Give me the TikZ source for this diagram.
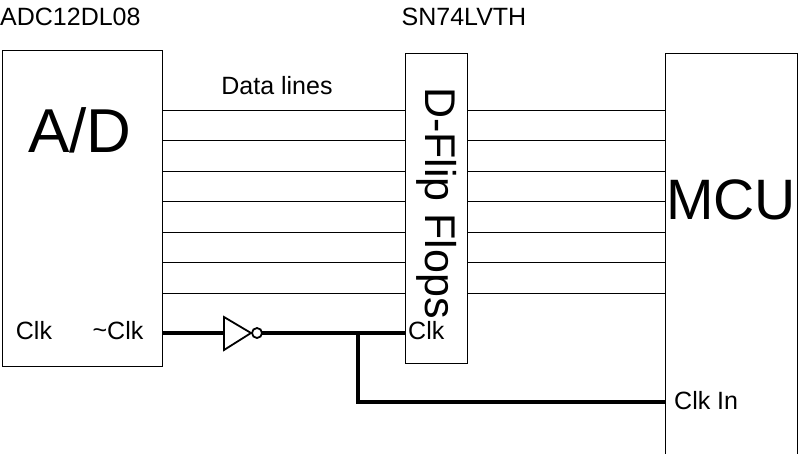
\documentclass[tikz,border=0pt]{standalone}
\usepackage{fontspec}
\setmainfont{Liberation Sans}
\begin{document}
\begin{tikzpicture}[x=1pt,y=-1pt,
  box/.style={draw,line width=1.2pt},
  dl/.style={line width=0.8pt},
  clk/.style={line width=3.5pt},
  lbl/.style={font=\fontsize{25}{28}\selectfont,inner sep=0pt}]
\useasboundingbox (0,0) rectangle (800,453);
\node[box,minimum width=160,minimum height=316,anchor=north west,inner sep=0pt] (ad) at (2,50) {};
\node[box,minimum width=62,minimum height=310,anchor=north west,inner sep=0pt] (ff) at (405,53) {};
\node[box,minimum width=132,minimum height=410,anchor=north west,inner sep=0pt] (mcu) at (665,53) {};
\node[lbl,anchor=west] (t1) at (0,17) {ADC12DL08};
\node[lbl] (t2) at (464,17) {SN74LVTH};
\node[lbl] (t3) at (277,86) {Data lines};
\node[inner sep=0pt,font=\fontsize{62}{66}\selectfont] (t4) at (80,130) {A/D};
\node[inner sep=0pt,font=\fontsize{57}{60}\selectfont] (t5) at (731,200) {MCU};
\node[inner sep=0pt,font=\fontsize{43}{46}\selectfont,rotate=-90] (t6) at (437,203) {D-Flip Flops};
\node[lbl] (c1) at (34,331) {Clk};
\node[lbl] (c2) at (118,331) {\raisebox{1pt}{\char`~}Clk};
\node[lbl,anchor=west] (c3) at (408,331) {Clk};
\node[lbl,anchor=west] (c4) at (674,401) {Clk In};
\foreach \y in {110,140,171,201,232,262,293}{
  \coordinate (a\y) at (162,\y); \coordinate (b\y) at (405,\y);
  \coordinate (c\y) at (467,\y); \coordinate (d\y) at (665,\y);
  \draw[dl] (a\y) -- (b\y);
  \draw[dl] (c\y) -- (d\y);
}
\coordinate (k0) at (162,333);
\coordinate (i1) at (224,333);
\coordinate (i3) at (262,333);
\coordinate (j) at (358,333);
\coordinate (k1) at (405,333);
\coordinate (j2) at (358,402);
\coordinate (k2) at (665,402);
\draw[clk] (k0) -- (i1);
\draw[line width=1.8pt,line join=miter] (224,317) -- (251,333) -- (224,350) -- cycle;
\draw[line width=1.8pt] (257,333) circle (5);
\draw[clk] (i3) -- (k1);
\draw[clk,line join=miter] (j) -- (j2) -- (k2);
\end{tikzpicture}
\end{document}
